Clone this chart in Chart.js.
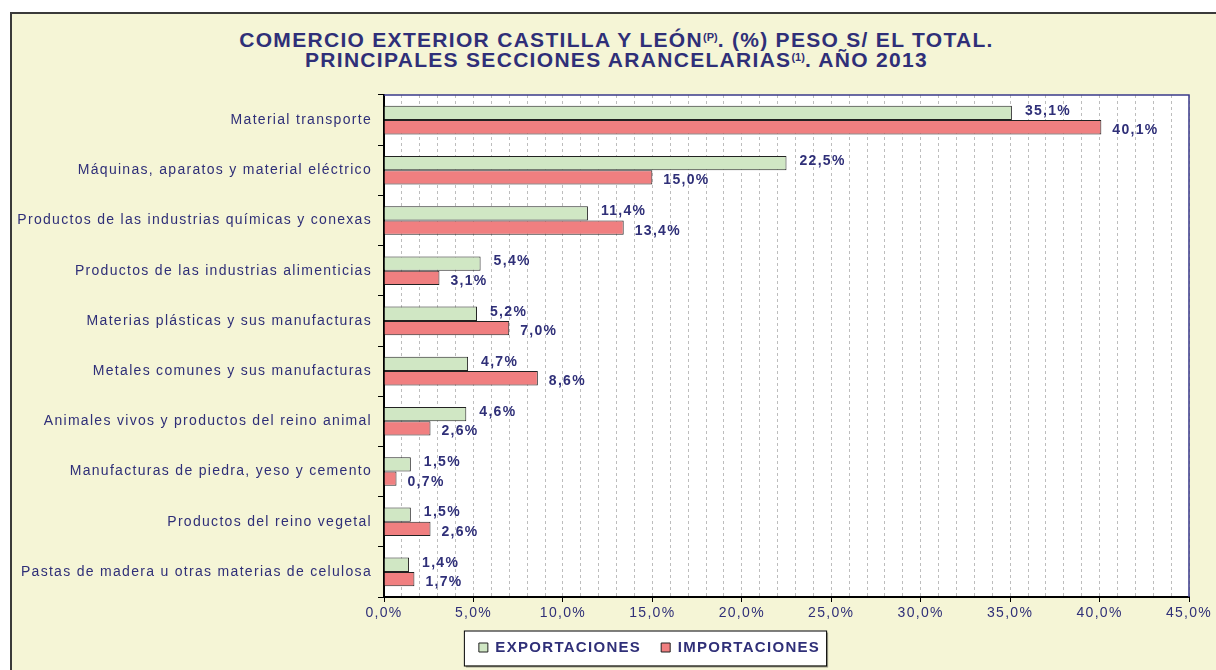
<!DOCTYPE html>
<html>
<head>
<meta charset="utf-8">
<script src="https://cdn.jsdelivr.net/npm/chart.js@4/dist/chart.umd.min.js"></script>
<style>
  html, body { margin: 0; padding: 0; background: #fff; overflow: hidden; }
  #frame {
    position: absolute; left: 10px; top: 12px; width: 1300px; height: 800px;
    background: #F5F5D6; border: 2px solid #3a3a3a;
  }
  #title {
    position: absolute; left: 0; top: 30px; width: 1233px; text-align: center;
    font: bold 21px "Liberation Sans", Arial, sans-serif; line-height: 20px; color: #2F2F78;
    letter-spacing: 1.3px;
  }
  #title sup { font-size: 11px; letter-spacing: 0; vertical-align: 6px; line-height: 0; }
  #chart { position: absolute; left: 0; top: 0; }
</style>
</head>
<body>
<div id="frame"></div>
<div id="title">COMERCIO EXTERIOR CASTILLA Y LEÓN<sup>(P)</sup>. (%) PESO S/ EL TOTAL.<br>PRINCIPALES SECCIONES ARANCELARIAS<sup>(1)</sup>. AÑO 2013</div>
<canvas id="chart" width="1216" height="670"></canvas>
<script>
const sections = [
  'Material transporte',
  'Máquinas, aparatos y material eléctrico',
  'Productos de las industrias químicas y conexas',
  'Productos de las industrias alimenticias',
  'Materias plásticas y sus manufacturas',
  'Metales comunes y sus manufacturas',
  'Animales vivos y productos del reino animal',
  'Manufacturas de piedra, yeso y cemento',
  'Productos del reino vegetal',
  'Pastas de madera u otras materias de celulosa',
];
const exportaciones = [35.1, 22.5, 11.4, 5.4, 5.2, 4.7, 4.6, 1.5, 1.5, 1.4];
const importaciones = [40.1, 15.0, 13.4, 3.1, 7.0, 8.6, 2.6, 0.7, 2.6, 1.7];
const xMax = 45;

const navy = '#2F2F78';
const fontFamily = '"Liberation Sans", Arial, sans-serif';
const pct = (v) => v.toFixed(1).replace('.', ',') + '%';

const spacing = (chart) => { chart.ctx.letterSpacing = '1.3px'; };

const framePlugin = {
  id: 'framePlugin',
  beforeUpdate: spacing,
  afterLayout(chart) {
    // legend sits off-centre in the original
    chart.legend.left += 55;
    chart.legend.right += 55;
  },
  beforeDraw(chart) {
    spacing(chart);
    const { ctx, chartArea: a, legend } = chart;
    ctx.save();
    ctx.fillStyle = '#fff';
    ctx.fillRect(a.left, a.top, a.right - a.left, a.bottom - a.top);
    // legend box
    const pad = legend.options.labels.padding;
    const w = legend.lineWidths[0] - pad;
    const x0 = (legend.left + legend.right) / 2 - w / 2;
    const yc = legend.top + pad + 7.5;
    ctx.fillStyle = 'rgba(0,0,0,0.35)';
    ctx.fillRect(x0 - 15 + 2, yc - 17 + 2, w + 21, 35);
    ctx.fillStyle = '#fff';
    ctx.fillRect(x0 - 15, yc - 17, w + 21, 35);
    ctx.strokeStyle = '#000';
    ctx.lineWidth = 1;
    ctx.strokeRect(x0 - 15 + 0.5, yc - 17 + 0.5, w + 21, 35);
    ctx.restore();
  },
  afterDatasetsDraw(chart) {
    const { ctx } = chart;
    ctx.save();
    ctx.font = 'bold 14px ' + fontFamily;
    ctx.fillStyle = navy;
    ctx.textAlign = 'left';
    ctx.textBaseline = 'middle';
    chart.data.datasets.forEach((ds, di) => {
      const meta = chart.getDatasetMeta(di);
      meta.data.forEach((bar, i) => {
        ctx.fillText(pct(ds.data[i]), bar.x + (di === 0 ? 13 : 11), bar.y + (di === 0 ? -2 : 3));
      });
    });
    ctx.restore();
  },
  afterDraw(chart) {
    const { ctx, chartArea: a } = chart;
    ctx.save();
    ctx.strokeStyle = '#3a3a8a';
    ctx.lineWidth = 1.5;
    ctx.beginPath();
    ctx.moveTo(a.left, a.top);
    ctx.lineTo(a.right, a.top);
    ctx.lineTo(a.right, a.bottom);
    ctx.stroke();
    ctx.restore();
  },
};

new Chart(document.getElementById('chart'), {
  type: 'bar',
  data: {
    labels: sections,
    datasets: [
      {
        label: 'EXPORTACIONES',
        data: exportaciones,
        backgroundColor: '#D0E7C4',
        borderColor: '#222',
        borderWidth: 1,
        categoryPercentage: 0.57,
        barPercentage: 1,
      },
      {
        label: 'IMPORTACIONES',
        data: importaciones,
        backgroundColor: '#F07F80',
        borderColor: '#222',
        borderWidth: 1,
        categoryPercentage: 0.57,
        barPercentage: 1,
      },
    ],
  },
  options: {
    indexAxis: 'y',
    responsive: false,
    animation: false,
    events: [],
    layout: { padding: { top: 95, left: 0, right: 27, bottom: 5 } },
    scales: {
      x: {
        min: 0,
        max: xMax,
        afterFit(scale) {
          scale.height = 670 - 597 - scale.chart.legend.height - 5;
        },
        ticks: {
          stepSize: 1,
          autoSkip: false,
          maxRotation: 0,
          minRotation: 0,
          padding: 3,
          color: navy,
          font: { family: fontFamily, size: 14 },
          callback: (v) => (v % 5 === 0 ? pct(v) : ''),
        },
        grid: {
          color: (c) => (c.tick && c.tick.value === 0 ? 'rgba(0,0,0,0)' : '#BDBDBD'),
          tickColor: (c) => (c.tick && c.tick.value % 5 === 0 ? '#000' : 'rgba(0,0,0,0)'),
          tickLength: 5,
        },
        border: { color: '#000', width: 2, dash: [3, 3] },
      },
      y: {
        afterFit(scale) { scale.width = 384; },
        ticks: {
          color: navy,
          padding: 6,
          font: { family: fontFamily, size: 14 },
        },
        grid: { offset: true, drawOnChartArea: false, tickLength: 6, color: '#000' },
        border: { color: '#000', width: 2 },
      },
    },
    plugins: {
      legend: {
        position: 'bottom',
        labels: {
          boxWidth: 9,
          boxHeight: 9,
          padding: 20,
          color: navy,
          font: { family: fontFamily, size: 15, weight: 'bold' },
        },
      },
      tooltip: { enabled: false },
    },
  },
  plugins: [framePlugin],
});
</script>
</body>
</html>
